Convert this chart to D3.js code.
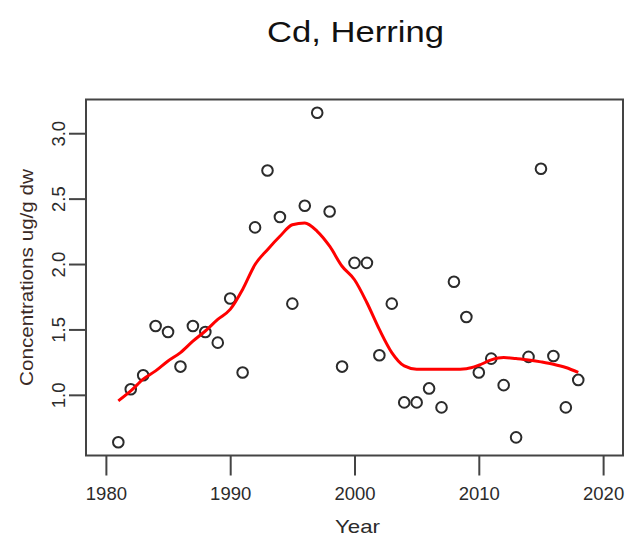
<!DOCTYPE html>
<html>
<head>
<meta charset="utf-8">
<script src="https://cdnjs.cloudflare.com/ajax/libs/d3/7.8.5/d3.min.js"></script>
<style>
    body { margin: 0; background: #ffffff; }
    text { font-family: "Liberation Sans", Arial, sans-serif; }
</style>
</head>
<body>
<svg id="mySvg" width="627" height="539"></svg>
<script>
//data
var years = [1981, 1982, 1983, 1984, 1985, 1986, 1987, 1988, 1989, 1990,
    1991, 1992, 1993, 1994, 1995, 1996, 1997, 1998, 1999, 2000,
    2001, 2002, 2003, 2004, 2005, 2006, 2007, 2008, 2009, 2010,
    2011, 2012, 2013, 2014, 2015, 2016, 2017, 2018];
var concValues = [0.637, 1.043, 1.150, 1.526, 1.480, 1.216, 1.526, 1.480, 1.399, 1.737,
    1.171, 2.280, 2.715, 2.360, 1.697, 2.446, 3.157, 2.402, 1.216, 2.009,
    2.009, 1.303, 1.697, 0.942, 0.942, 1.049, 0.904, 1.864, 1.595, 1.171,
    1.277, 1.074, 0.675, 1.290, 2.728, 1.297, 0.904, 1.114];
//smoothed curve (red line), one value per year
var smoothValues = [0.954, 1.030, 1.120, 1.183, 1.259, 1.323, 1.410, 1.488, 1.577, 1.653,
    1.806, 1.996, 2.110, 2.212, 2.300, 2.314, 2.250, 2.136, 1.983, 1.880,
    1.704, 1.500, 1.323, 1.221, 1.196, 1.196, 1.196, 1.196, 1.200, 1.226,
    1.267, 1.285, 1.277, 1.267, 1.252, 1.234, 1.209, 1.171];
var xTicks = [1980, 1990, 2000, 2010, 2020];
var yTicks = [1.0, 1.5, 2.0, 2.5, 3.0];
var xLimits = [1980, 2020];
var titleText = "Cd, Herring";
var xLabel = "Year";
var yLabel = "Concentrations ug/g dw";

//plot region
var plotLeft = 86;
var plotRight = 623;
var plotTop = 99.5;
var plotBottom = 455.5;
var inkColor = "#2b2b2b";

var svg = d3.select("#mySvg");

//R style 4% axis expansion
var xPad = (xLimits[1] - xLimits[0]) * 0.04;
var yExt = d3.extent(concValues);
var yPad = (yExt[1] - yExt[0]) * 0.04;

var x = d3.scaleLinear()
    .domain([xLimits[0] - xPad, xLimits[1] + xPad])
    .range([plotLeft, plotRight]);
var y = d3.scaleLinear()
    .domain([yExt[0] - yPad, yExt[1] + yPad])
    .range([plotBottom, plotTop]);

//x axis
var xAxis = svg.append("g")
    .attr("transform", "translate(0," + plotBottom + ")")
    .call(d3.axisBottom(x).tickValues(xTicks).tickFormat(d3.format("d")).tickSize(20).tickSizeOuter(0));
xAxis.select(".domain").remove();
xAxis.selectAll("line").attr("stroke", "#444").attr("stroke-width", 2);
xAxis.selectAll("text")
    .attr("y", 44.5)
    .attr("dy", 0)
    .attr("fill", inkColor)
    .style("font-size", "18.5px");

//y axis, labels turned like R does
var yAxis = svg.append("g")
    .attr("transform", "translate(" + plotLeft + ",0)")
    .call(d3.axisLeft(y).tickValues(yTicks).tickFormat(d3.format(".1f")).tickSize(17).tickSizeOuter(0));
yAxis.select(".domain").remove();
yAxis.selectAll("line").attr("stroke", "#444").attr("stroke-width", 2);
yAxis.selectAll("text")
    .attr("transform", "rotate(-90)")
    .attr("text-anchor", "middle")
    .attr("x", 0)
    .attr("y", -21)
    .attr("dy", 0)
    .attr("fill", inkColor)
    .style("font-size", "18.5px");

//box round the plot
svg.append("rect")
    .attr("x", plotLeft)
    .attr("y", plotTop)
    .attr("width", plotRight - plotLeft)
    .attr("height", plotBottom - plotTop)
    .attr("fill", "none")
    .attr("stroke", "#444")
    .attr("stroke-width", 2);

//open circles
svg.append("g")
    .selectAll("circle")
    .data(years)
    .enter()
    .append("circle")
    .attr("cx", function(d) { return x(d); })
    .attr("cy", function(d, i) { return y(concValues[i]); })
    .attr("r", 5.3)
    .attr("fill", "none")
    .attr("stroke", inkColor)
    .attr("stroke-width", 2);

//red smooth line
var smoothLine = d3.line()
    .x(function(d) { return x(d); })
    .y(function(d, i) { return y(smoothValues[i]); })
    .curve(d3.curveMonotoneX);
svg.append("path")
    .attr("d", smoothLine(years))
    .attr("fill", "none")
    .attr("stroke", "#ff0000")
    .attr("stroke-width", 3)
    .attr("stroke-linejoin", "round");

//titles
svg.append("text")
    .attr("x", (plotLeft + plotRight) / 2 + 1)
    .attr("y", 42)
    .attr("text-anchor", "middle")
    .attr("textLength", 177)
    .attr("lengthAdjust", "spacingAndGlyphs")
    .attr("fill", "#111")
    .style("font-size", "30px")
    .text(titleText);

svg.append("text")
    .attr("x", (plotLeft + plotRight) / 2 + 3)
    .attr("y", 533)
    .attr("text-anchor", "middle")
    .attr("textLength", 45)
    .attr("lengthAdjust", "spacingAndGlyphs")
    .attr("fill", inkColor)
    .style("font-size", "18.5px")
    .text(xLabel);

svg.append("text")
    .attr("transform", "translate(33," + ((plotTop + plotBottom) / 2) + ") rotate(-90)")
    .attr("text-anchor", "middle")
    .attr("textLength", 217)
    .attr("lengthAdjust", "spacingAndGlyphs")
    .attr("fill", "#3b2a26")
    .style("font-size", "17.7px")
    .text(yLabel);
</script>
</body>
</html>
